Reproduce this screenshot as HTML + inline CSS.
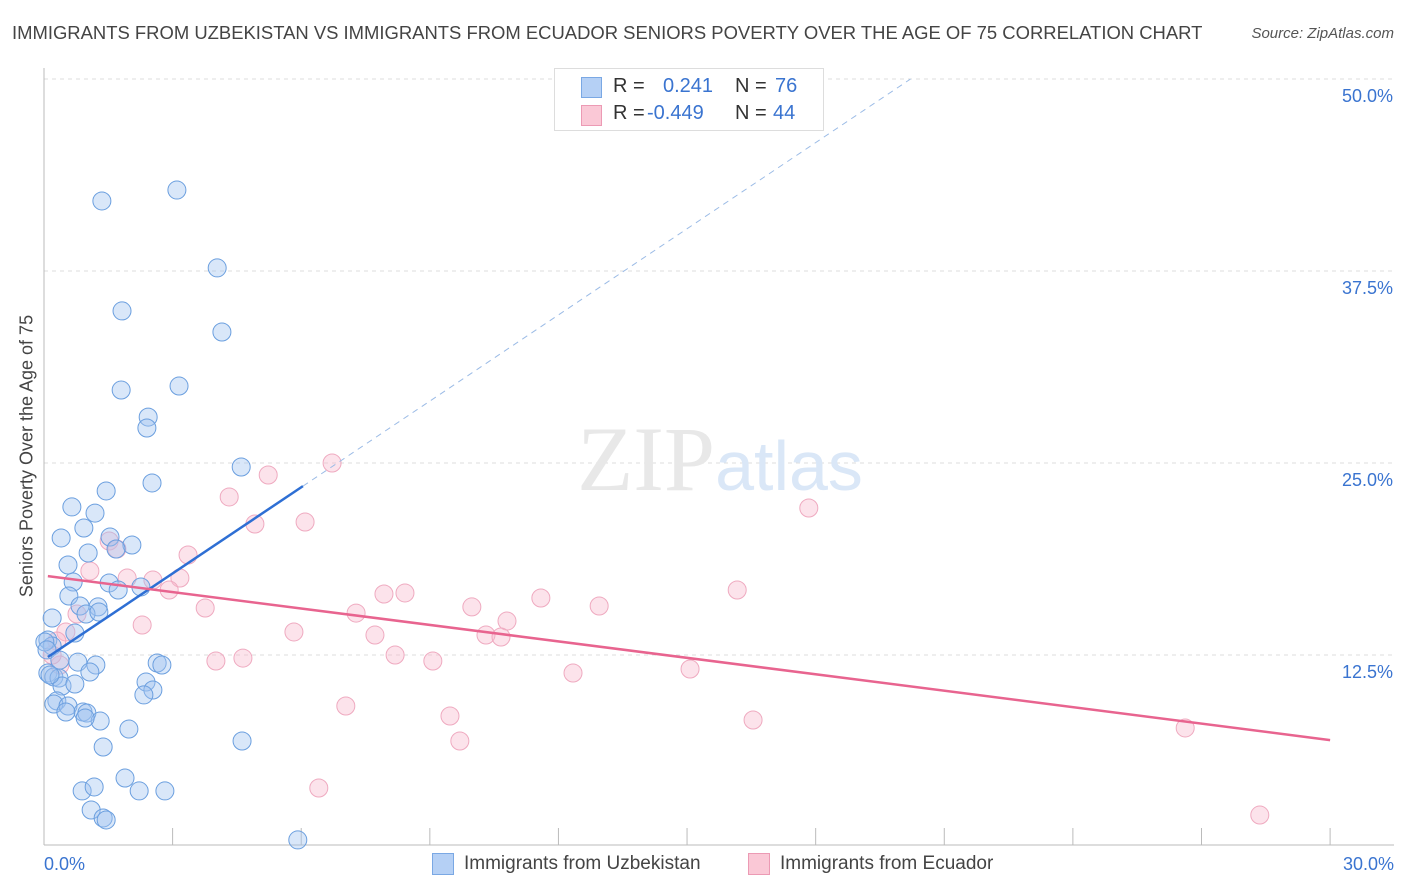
<!DOCTYPE html>
<html><head><meta charset="utf-8"><style>
body{margin:0;background:#fff;font-family:"Liberation Sans",sans-serif;}
#wrap{position:relative;width:1406px;height:892px;overflow:hidden;}
.t{position:absolute;white-space:nowrap;}
</style></head><body>
<div id="wrap">
<div class="t" style="left:12px;top:22px;font-size:18.45px;color:#444;">IMMIGRANTS FROM UZBEKISTAN VS IMMIGRANTS FROM ECUADOR SENIORS POVERTY OVER THE AGE OF 75 CORRELATION CHART</div>
<div class="t" style="right:12px;top:25px;font-size:15px;color:#555;font-style:italic;">Source: ZipAtlas.com</div>
<div class="t" style="left:27px;top:456px;font-size:18px;color:#444;transform:translate(-50%,-50%) rotate(-90deg);">Seniors Poverty Over the Age of 75</div>
<svg id="plot" width="1406" height="892" style="position:absolute;left:0;top:0"></svg>
<div style="position:absolute;left:554px;top:68px;width:268px;height:61px;border:1px solid #ddd;background:#fff;font-size:20px;">
 <div style="position:absolute;left:26px;top:8px;width:19px;height:19px;background:#b5d0f5;border:1px solid #7aa8e4;"></div>
 <div class="t" style="left:58px;top:6px;color:#333;">R = </div><div class="t" style="left:108px;top:6px;color:#3a74d0;">0.241</div>
 <div class="t" style="left:180px;top:6px;color:#333;">N =</div><div class="t" style="left:220px;top:6px;color:#3a74d0;">76</div>
 <div style="position:absolute;left:26px;top:36px;width:19px;height:19px;background:#fac8d6;border:1px solid #ec9ab4;"></div>
 <div class="t" style="left:58px;top:33px;color:#333;">R = </div><div class="t" style="left:92px;top:33px;color:#3a74d0;">-0.449</div>
 <div class="t" style="left:180px;top:33px;color:#333;">N =</div><div class="t" style="left:218px;top:33px;color:#3a74d0;">44</div>
</div>
<div style="position:absolute;left:432px;top:853px;">
 <div style="position:absolute;left:0;top:0;width:20px;height:20px;background:#b5d0f5;border:1px solid #7aa8e4;"></div>
 <div class="t" style="left:32px;top:0;font-size:19px;color:#444;">Immigrants from Uzbekistan</div></div>
<div style="position:absolute;left:748px;top:853px;">
 <div style="position:absolute;left:0;top:0;width:20px;height:20px;background:#fac8d6;border:1px solid #ec9ab4;"></div>
 <div class="t" style="left:32px;top:0;font-size:19px;color:#444;">Immigrants from Ecuador</div></div>
</div>
<script>
const yTicks=[12.5,25,37.5,50];
const yTickLabels=["12.5%","25.0%","37.5%","50.0%"];
const xTickLabels=["0.0%","30.0%"];
const blueX=[1.35,3.10,4.04,1.82,4.15,1.80,3.15,2.43,2.40,4.60,2.52,1.45,0.65,1.19,0.93,0.40,1.54,2.05,1.03,1.68,0.56,0.68,0.58,1.52,1.73,2.26,0.84,1.26,0.98,0.19,1.28,0.72,0.09,0.19,0.02,2.64,2.75,0.79,1.21,1.07,0.09,0.23,0.35,0.42,0.72,2.38,2.54,2.33,0.30,0.23,0.56,0.91,0.51,1.00,1.31,0.96,1.98,1.38,4.62,1.89,0.89,1.17,2.22,2.82,1.10,1.38,1.45,5.92,0.07,0.14,0.37];
const blueY=[42.06,42.77,37.70,34.90,33.53,29.75,30.01,27.99,27.28,24.74,23.70,23.18,22.14,21.74,20.77,20.12,20.18,19.66,19.14,19.40,18.36,17.25,16.34,17.19,16.73,16.93,15.69,15.63,15.17,14.91,15.30,13.93,13.48,13.09,13.35,11.98,11.85,12.04,11.85,11.39,11.33,11.07,11.00,10.48,10.61,10.74,10.22,9.90,9.51,9.31,9.18,8.79,8.79,8.72,8.20,8.40,7.68,6.51,6.90,4.49,3.65,3.91,3.65,3.65,2.41,1.89,1.76,0.46,12.83,11.20,12.17];
const pinkX=[6.72,5.23,4.32,6.09,4.92,17.84,1.52,1.70,3.36,1.07,1.94,2.54,3.17,2.92,7.93,8.42,11.59,12.95,9.98,16.17,3.76,7.28,0.77,10.80,2.29,0.51,5.83,7.72,10.31,10.66,0.30,8.19,9.07,4.01,4.64,0.37,15.07,12.34,7.04,9.47,16.54,9.70,6.41,26.62,28.36,0.19];
const pinkY=[25.0,24.22,22.79,21.16,21.03,22.07,19.92,19.40,19.01,17.97,17.51,17.38,17.51,16.73,16.47,16.54,16.21,15.69,15.63,16.73,15.56,15.23,15.17,14.71,14.45,14.00,14.00,13.80,13.80,13.67,13.41,12.50,12.11,12.11,12.30,11.85,11.59,11.33,9.18,8.53,8.27,6.90,3.84,7.75,2.08,12.50];
const blueTrend=[12.2,1.87];
const pinkTrend=[17.67,-0.357];
const X=v=>44+v*42.87, Y=v=>847-v*15.36;
const svg=document.getElementById('plot'),NS='http://www.w3.org/2000/svg';
function mk(t,a){const e=document.createElementNS(NS,t);for(const k in a)e.setAttribute(k,a[k]);svg.appendChild(e);return e;}
yTicks.forEach((v,i)=>{
 const g=mk('line',{x1:44,x2:1394,y1:Y(v),y2:Y(v),stroke:'#ddd','stroke-dasharray':'4,4'});
 
 
 const t=mk('text',{x:1393,y:Y(v)+23,'text-anchor':'end','font-size':18,fill:'#3a74d0','font-family':'Liberation Sans'});
 t.textContent=yTickLabels[i];
 
 
});
const wm=mk('text',{x:720,y:490,'text-anchor':'middle','font-size':92,fill:'#e8e8e8','font-family':'Liberation Serif'});
wm.innerHTML='ZIP<tspan fill="#dae7f7" font-family="Liberation Sans" font-size="70">atlas</tspan>';


const ax=mk('line',{x1:44,x2:1394,y1:845,y2:845,stroke:'#bbb'});


const ay=mk('line',{x1:44,x2:44,y1:68,y2:845,stroke:'#bbb'});


for(let i=0;i<=10;i++){const tk=mk('line',{x1:X(i*3),x2:X(i*3),y1:828,y2:845,stroke:'#bbb'});
 
 }
xTickLabels.forEach((s,i)=>{const t=mk('text',{x:i?1394:44,y:870,'text-anchor':i?'end':'start','font-size':18,fill:'#3a74d0','font-family':'Liberation Sans'});t.textContent=s;
 
 });
function dots(xs,ys,fill,stroke,name){xs.forEach((x,i)=>{const c=mk('circle',{cx:X(x),cy:Y(ys[i]),r:9,fill:fill,stroke:stroke,'stroke-width':1});
 
 });}
dots(pinkX,pinkY,'rgba(248,185,205,0.4)','#efaac0','ecuador-point');
dots(blueX,blueY,'rgba(160,195,240,0.4)','#6b9fdf','uzbekistan-point');
const xEnd=(50-blueTrend[0])/blueTrend[1];
const bd=mk('line',{x1:X(6.04),y1:Y(blueTrend[0]+blueTrend[1]*6.04),x2:X(xEnd),y2:Y(50),stroke:'#9bbbe6','stroke-width':1,'stroke-dasharray':'6,5'});


const bl=mk('line',{x1:X(0.09),y1:Y(blueTrend[0]+blueTrend[1]*0.09),x2:X(6.04),y2:Y(blueTrend[0]+blueTrend[1]*6.04),stroke:'#2e6fd4','stroke-width':2.5});


const pl=mk('line',{x1:X(0.09),y1:Y(pinkTrend[0]+pinkTrend[1]*0.09),x2:X(30),y2:Y(pinkTrend[0]+pinkTrend[1]*30),stroke:'#e8648f','stroke-width':2.5});


</script>
</body></html>
